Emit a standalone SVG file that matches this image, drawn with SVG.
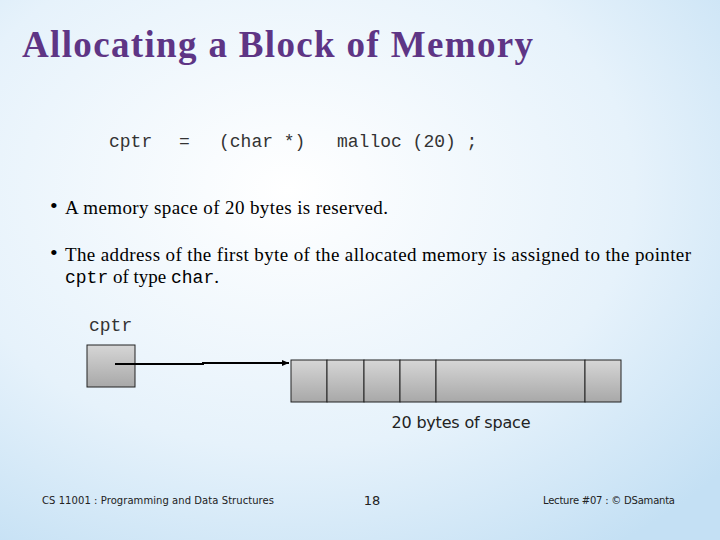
<svg xmlns="http://www.w3.org/2000/svg" width="720" height="540" viewBox="0 0 720 540">
<defs>
<radialGradient id="bg" cx="0.4" cy="0.35" r="0.8"><stop offset="0" stop-color="#ffffff"/><stop offset="0.6" stop-color="#e6f2fb"/><stop offset="1" stop-color="#c4e0f4"/></radialGradient>
<linearGradient id="cell" x1="0" y1="0" x2="0" y2="1"><stop offset="0" stop-color="#d6d6d6"/><stop offset="1" stop-color="#a8a8a8"/></linearGradient>
<marker id="ah" markerWidth="8" markerHeight="8" refX="7" refY="4" orient="auto" markerUnits="userSpaceOnUse"><path d="M0,1 L7,4 L0,7 z" fill="#000"/></marker>
</defs>
<style>
.t{font-family:"Liberation Serif",serif;fill:#000}
.m{font-family:"Liberation Mono",monospace;fill:#333}
.f{font-family:"DejaVu Sans",sans-serif;fill:#222}
.c{fill:url(#cell);stroke:#222;stroke-width:1}
</style>
<rect width="720" height="540" fill="url(#bg)"/>
<text x="22" y="57" class="t" font-size="37" font-weight="bold" textLength="511" style="fill:#5e3585">Allocating a Block of Memory</text>
<text y="147" class="m" font-size="18"><tspan x="109">cptr</tspan><tspan x="179">=</tspan><tspan x="219">(char *)</tspan><tspan x="337">malloc (20) ;</tspan></text>
<text x="50" y="213" class="t" font-size="22">•</text>
<text x="65" y="214" class="t" font-size="19" textLength="323">A memory space of 20 bytes is reserved.</text>
<text x="50" y="260" class="t" font-size="22">•</text>
<text x="65" y="261" class="t" font-size="19" textLength="626">The address of the first byte of the allocated memory is assigned to the pointer</text>
<text x="65" y="283" class="t" font-size="19"><tspan style="font-family:'Liberation Mono',monospace" font-size="18">cptr</tspan> of type <tspan style="font-family:'Liberation Mono',monospace" font-size="18">char</tspan>.</text>
<text x="89" y="331" class="m" font-size="18">cptr</text>
<g id="ptr"><rect x="87" y="345" width="48" height="42" class="c"/></g>
<g id="mem">
<rect x="291" y="360" width="36" height="42" class="c"/>
<rect x="327" y="360" width="37" height="42" class="c"/>
<rect x="364" y="360" width="36" height="42" class="c"/>
<rect x="400" y="360" width="36" height="42" class="c"/>
<rect x="436" y="360" width="149" height="42" class="c"/>
<rect x="585" y="360" width="36" height="42" class="c"/>
</g>
<g id="connectors"><path d="M115,364 H203 V363 H289" fill="none" stroke="#000" stroke-width="2" marker-end="url(#ah)"/></g>
<text x="461" y="428" class="f" font-size="16" text-anchor="middle" textLength="139" fill="#1a2a40">20 bytes of space</text>
<text x="42" y="504" class="f" font-size="10" textLength="232">CS 11001 : Programming and Data Structures</text>
<text x="372" y="505" class="f" font-size="13" text-anchor="middle">18</text>
<text x="543" y="504" class="f" font-size="10" textLength="132">Lecture #07 : © DSamanta</text>
</svg>
